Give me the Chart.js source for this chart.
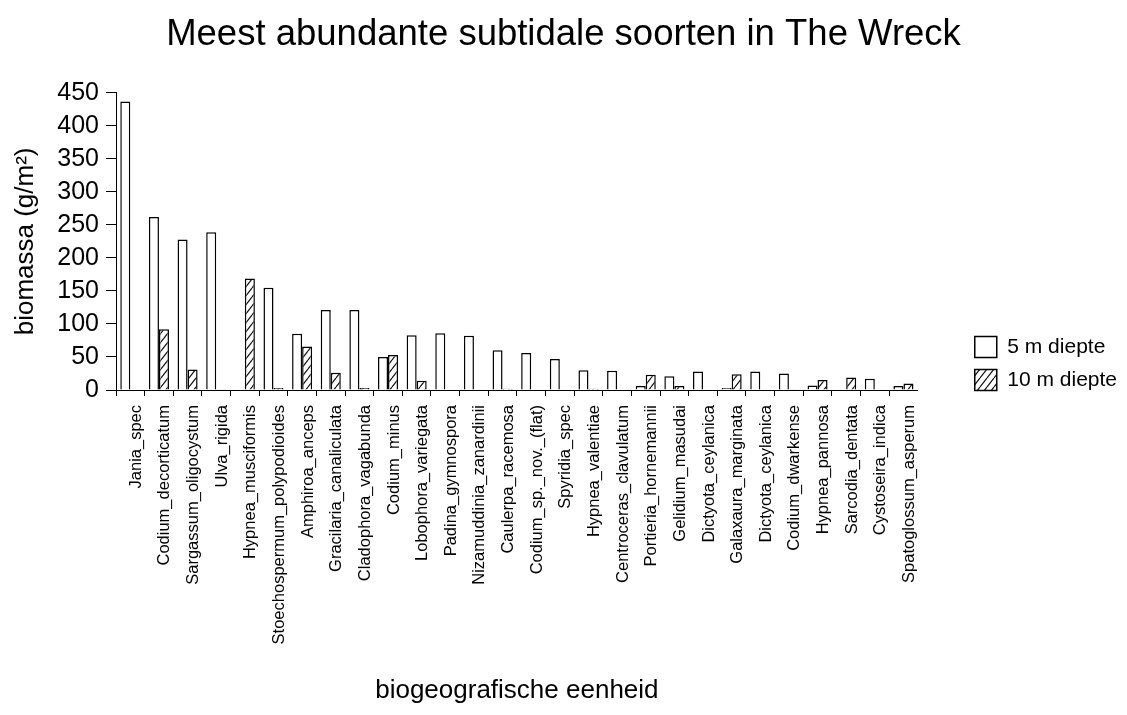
<!DOCTYPE html>
<html>
<head>
<meta charset="utf-8">
<title>Meest abundante subtidale soorten in The Wreck</title>
<script src="https://cdn.jsdelivr.net/npm/chart.js@4.4.1/dist/chart.umd.min.js"></script>
<style>
  html, body { margin: 0; padding: 0; background: #fff; }
  #wrap { width: 1127px; height: 715px; }
</style>
</head>
<body>
<div id="wrap"><canvas id="wreckChart" width="1127" height="715"></canvas></div>
<script>
// soorten, gesorteerd op biomassa
const species = [
  'Jania_spec', 'Codium_decorticatum', 'Sargassum_oligocystum', 'Ulva_rigida',
  'Hypnea_musciformis', 'Stoechospermum_polypodioides', 'Amphiroa_anceps',
  'Gracilaria_canaliculata', 'Cladophora_vagabunda', 'Codium_minus',
  'Lobophora_variegata', 'Padina_gymnospora', 'Nizamuddinia_zanardinii',
  'Caulerpa_racemosa', 'Codium_sp._nov._(flat)', 'Spyridia_spec',
  'Hypnea_valentiae', 'Centroceras_clavulatum', 'Portieria_hornemannii',
  'Gelidium_masudai', 'Dictyota_ceylanica', 'Galaxaura_marginata',
  'Dictyota_ceylanica', 'Codium_dwarkense', 'Hypnea_pannosa',
  'Sarcodia_dentata', 'Cystoseira_indica', 'Spatoglossum_asperum'
];

// biomassa (g/m2) per diepte
const biomass5m  = [437, 262, 228, 239, 0, 155, 85, 121, 121, 50, 83, 86, 82, 60,
                    56, 47, 30, 29, 6, 21, 28, 3, 28, 25, 7, 0, 17, 6];
const biomass10m = [0, 92, 31, 1, 169, 3, 66, 26, 3, 53, 14, 0, 0, 2,
                    0, 0, 2, 0, 23, 6, 0, 24, 0, 1, 15, 19, 0, 10];

const yMax = 450;
const yStep = 50;

Chart.defaults.font.family = "'Liberation Sans', Arial, Helvetica, sans-serif";
Chart.defaults.color = '#000';

/* ── arcering "////" voor de 10 m reeks ── */
function makeHatch() {
  const w = 7, h = 9;
  const c = document.createElement('canvas');
  c.width = w; c.height = h;
  const g = c.getContext('2d');
  g.fillStyle = '#fff';
  g.fillRect(0, 0, w, h);
  g.strokeStyle = '#111';
  g.lineWidth = 1.2;
  g.beginPath();
  [-w, 0, w].forEach(dx => {
    g.moveTo(dx, h);
    g.lineTo(dx + w, 0);
  });
  g.stroke();
  return g.createPattern(c, 'repeat');
}

const ctx = document.getElementById('wreckChart').getContext('2d');
const hatch = makeHatch();

new Chart(ctx, {
  type: 'bar',
  data: {
    labels: species,
    datasets: [
      {
        label: '5 m diepte',
        data: biomass5m,
        backgroundColor: '#fff',
        borderColor: '#000',
        borderWidth: 1.5,
        categoryPercentage: 0.7,
        barPercentage: 1
      },
      {
        label: '10 m diepte',
        data: biomass10m,
        backgroundColor: hatch,
        borderColor: '#000',
        borderWidth: 1.5,
        categoryPercentage: 0.7,
        barPercentage: 1
      }
    ]
  },
  options: {
    responsive: false,
    animation: false,
    layout: { padding: { top: 12, right: 0, bottom: 0, left: 0 } },
    plugins: {
      title: {
        display: true,
        text: 'Meest abundante subtidale soorten in The Wreck',
        color: '#000',
        font: { size: 36.5, weight: 'normal' },
        padding: { top: 1, bottom: 36 }
      },
      legend: {
        position: 'right',
        labels: {
          color: '#000',
          font: { size: 21 },
          boxWidth: 22,
          boxHeight: 21,
          padding: 12
        }
      },
      tooltip: { enabled: false }
    },
    scales: {
      x: {
        grid: {
          drawOnChartArea: false,
          offset: true,
          tickLength: 6,
          color: '#000',
          // geen streepje aan het rechtereinde van de as
          tickColor: c => (c.type === 'tick' ? '#000' : 'rgba(0,0,0,0)')
        },
        border: { color: '#000' },
        ticks: {
          autoSkip: false,
          minRotation: 90,
          maxRotation: 90,
          labelOffset: 6,
          padding: 9,
          color: '#000',
          font: { size: 16.5 }
        },
        title: {
          display: true,
          text: 'biogeografische eenheid',
          color: '#000',
          font: { size: 26 },
          padding: { top: 0, bottom: 9 }
        },
        afterFit: s => { s.height = 325; }
      },
      y: {
        min: 0,
        max: yMax,
        ticks: { stepSize: yStep, color: '#000', font: { size: 25 }, padding: 7 },
        grid: { drawOnChartArea: false, tickLength: 10, color: '#000' },
        border: { color: '#000' },
        title: {
          display: true,
          text: 'biomassa (g/m²)',
          color: '#000',
          font: { size: 26 },
          padding: { top: 10, bottom: 0 }
        },
        afterFit: s => { s.width = 116; }
      },
      // lege ruimte tussen plot en legenda
      gap: {
        type: 'linear',
        position: 'right',
        display: true,
        grid: { display: false },
        border: { display: false },
        ticks: { display: false },
        afterFit: s => { s.width = 45; }
      }
    }
  }
});
</script>
</body>
</html>
